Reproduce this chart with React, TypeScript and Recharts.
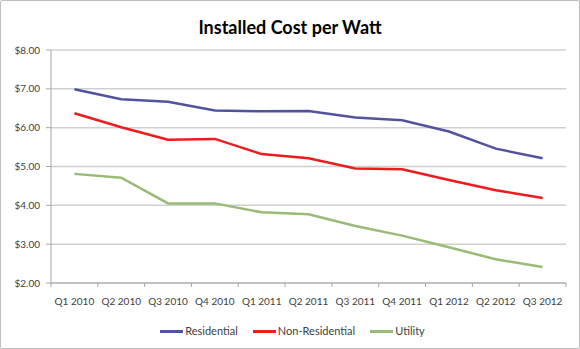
import { LineChart, Line, CartesianGrid, XAxis, YAxis, Legend } from "recharts";

const quarters = [
  "Q1 2010", "Q2 2010", "Q3 2010", "Q4 2010", "Q1 2011", "Q2 2011",
  "Q3 2011", "Q4 2011", "Q1 2012", "Q2 2012", "Q3 2012",
];
const seriesNames = ["Residential", "Non-Residential", "Utility"];
const residential = [6.99, 6.73, 6.67, 6.44, 6.42, 6.43, 6.26, 6.19, 5.9, 5.46, 5.21];
const nonResidential = [6.37, 6.01, 5.69, 5.71, 5.32, 5.21, 4.95, 4.93, 4.65, 4.39, 4.19];
const utility = [4.81, 4.71, 4.05, 4.05, 3.82, 3.77, 3.47, 3.22, 2.92, 2.61, 2.41];
const yTicks = [2, 3, 4, 5, 6, 7, 8];

const data = quarters.map((q, i) => ({
  q,
  Residential: residential[i],
  "Non-Residential": nonResidential[i],
  Utility: utility[i],
}));

const font = "Lato, 'Open Sans', sans-serif";
const textColor = "#404040";
const axisColor = "#A6A6A6";

// x tick: label at the band centre, tick mark on the band boundary
const XTick = (props: any) => {
  const { x, y, payload, index } = props;
  const half = payload && payload.offset ? payload.offset : 23.4;
  const axisY = y - 15;
  return (
    <g>
      {index === 0 && (
        <line x1={x - half} x2={x - half} y1={axisY} y2={axisY + 4} stroke={axisColor} />
      )}
      <line x1={x + half} x2={x + half} y1={axisY} y2={axisY + 4} stroke={axisColor} />
      <text x={x} y={y} dy="0.71em" textAnchor="middle" fill={textColor} fontSize={10} fontFamily={font}>
        {payload.value}
      </text>
    </g>
  );
};

const LegendBox = (props: any) => {
  const items = seriesNames
    .map((n) => props.payload.find((p: any) => p.value === n))
    .filter(Boolean);
  return (
    <div style={{ display: "flex", justifyContent: "center", height: 20, lineHeight: "20px", fontFamily: font, fontSize: 11, color: textColor, paddingLeft: 34 }}>
      {items.map((p: any) => (
        <div key={p.value} style={{ display: "flex", alignItems: "center", marginRight: 15 }}>
          <span style={{ display: "inline-block", width: 23, height: 3, background: p.color, marginRight: 2 }} />
          <span>{p.value}</span>
        </div>
      ))}
    </div>
  );
};

export default function App() {
  return (
    <div style={{ position: "absolute", left: 0, top: 0, width: 580, height: 349, background: "#fff" }}>
      <div style={{ position: "absolute", inset: 0, border: "1px solid #BDBDBD", borderRadius: 2, boxSizing: "border-box" }} />
      <div style={{ position: "absolute", top: 16, left: 0, width: 580, textAlign: "center", fontFamily: font, fontWeight: 700, fontSize: 18, color: "#000" }}>
        Installed Cost per Watt
      </div>
      <LineChart width={580} height={349} data={data} margin={{ top: 50, right: 14, bottom: 8, left: 0 }}>
        <CartesianGrid horizontal={true} vertical={false} stroke="#D0D0D0" strokeWidth={1.5} />
        <XAxis
          dataKey="q"
          scale="band"
          height={38}
          tickLine={false}
          tickSize={0}
          tickMargin={15}
          stroke={axisColor}
          tick={<XTick />}
          interval={0}
        />
        <YAxis
          width={51}
          domain={[2, 8]}
          ticks={yTicks}
          tickSize={5}
          tickMargin={6}
          stroke={axisColor}
          tick={{ fill: textColor, fontSize: 10, fontFamily: font }}
          tickFormatter={(v: number) => `$${v.toFixed(2)}`}
        />
        <Legend verticalAlign="bottom" height={20} content={<LegendBox />} />
        <Line dataKey="Residential" stroke="#5153A0" strokeWidth={2.5} dot={false} isAnimationActive={false} />
        <Line dataKey="Non-Residential" stroke="#EE1C1C" strokeWidth={2.5} dot={false} isAnimationActive={false} />
        <Line dataKey="Utility" stroke="#98BB76" strokeWidth={2.5} dot={false} isAnimationActive={false} />
      </LineChart>
    </div>
  );
}
